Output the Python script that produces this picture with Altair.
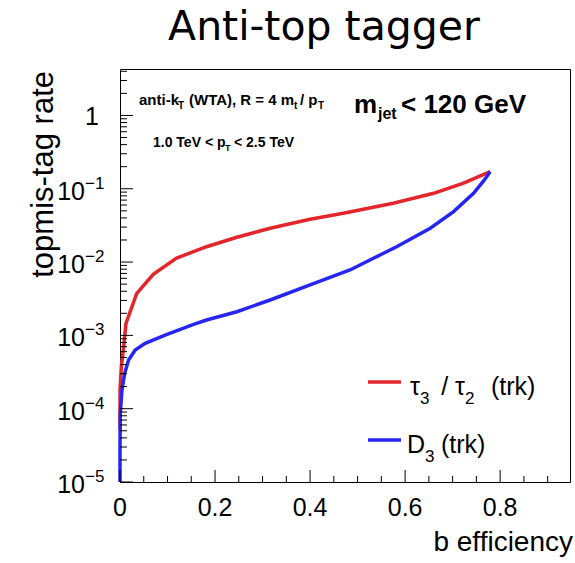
import altair as alt
import pandas as pd

# ---------------- data ----------------
red_x = [0.0, 0.0, 0.0028, 0.0077, 0.0126, 0.035, 0.070, 0.119, 0.182, 0.246,
         0.316, 0.40, 0.47, 0.575, 0.66, 0.723, 0.779]
red_y = [5e-5, 1.8e-4, 3.74e-4, 7.0e-4, 1.46e-3, 3.7e-3, 6.8e-3, 1.13e-2, 1.62e-2, 2.18e-2,
         2.89e-2, 3.84e-2, 4.63e-2, 6.34e-2, 8.67e-2, 1.19e-1, 1.71e-1]

blue_x = [0.0, 0.0, 0.0006, 0.0042, 0.0099, 0.018, 0.032, 0.053, 0.095, 0.152, 0.182,
          0.246, 0.316, 0.40, 0.484, 0.582, 0.653, 0.702, 0.744, 0.766, 0.779]
blue_y = [1e-5, 3e-5, 8.6e-5, 1.8e-4, 3.04e-4, 4.6e-4, 6.3e-4, 7.8e-4, 1.01e-3, 1.39e-3, 1.62e-3,
          2.1e-3, 3.04e-3, 4.88e-3, 7.8e-3, 1.62e-2, 2.89e-2, 4.88e-2, 8.67e-2, 1.3e-1, 1.71e-1]

series_names = ["tau32", "D3"]
series_colors = ["#e3262b", "#2626f2"]

x_label_values = [0, 0.2, 0.4, 0.6, 0.8]
x_label_texts = ["0", "0.2", "0.4", "0.6", "0.8"]
x_minor = [0.05, 0.1, 0.15, 0.25, 0.3, 0.35, 0.45, 0.5, 0.55, 0.65, 0.7, 0.75, 0.85, 0.9]

y_decades = [1e-5, 1e-4, 1e-3, 1e-2, 1e-1, 1.0]
y_exponents = ["−5", "−4", "−3", "−2", "−1", ""]
y_minor = [k * d for d in [1e-5, 1e-4, 1e-3, 1e-2, 1e-1] for k in range(2, 10)] + [2.0, 3.0, 4.0]

X_MAX = 0.947
Y_MIN, Y_MAX = 1e-5, 4.3
W, H = 450, 413
FONT = "Liberation Sans"

xscale = alt.Scale(domain=[0, X_MAX], nice=False, zero=False)
yscale = alt.Scale(type="log", domain=[Y_MIN, Y_MAX], nice=False)

# ---------------- curves ----------------
rows = []
for i, (x, y) in enumerate(zip(red_x, red_y)):
    rows.append({"x": x, "y": y, "s": series_names[0], "i": i})
for i, (x, y) in enumerate(zip(blue_x, blue_y)):
    rows.append({"x": x, "y": y, "s": series_names[1], "i": i})
curves_df = pd.DataFrame(rows)

curves = alt.Chart(curves_df).mark_line(strokeWidth=3.5).encode(
    x=alt.X("x:Q", scale=xscale, axis=None),
    y=alt.Y("y:Q", scale=yscale, axis=None),
    color=alt.Color("s:N", scale=alt.Scale(domain=series_names, range=series_colors), legend=None),
    order=alt.Order("i:Q"),
)

# ---------------- inward ticks ----------------
xmaj_df = pd.DataFrame({"v": x_label_values, "t": x_label_texts})
xmin_df = pd.DataFrame({"v": x_minor})
ymaj_df = pd.DataFrame({"v": y_decades, "e": y_exponents})
ymin_df = pd.DataFrame({"v": y_minor})

tick_style = dict(color="black", strokeWidth=1)
xmaj_ticks = alt.Chart(xmaj_df).mark_rule(**tick_style).encode(
    x=alt.X("v:Q", scale=xscale), y=alt.value(H), y2=alt.value(H - 12))
xmin_ticks = alt.Chart(xmin_df).mark_rule(**tick_style).encode(
    x=alt.X("v:Q", scale=xscale), y=alt.value(H), y2=alt.value(H - 6))
ymaj_ticks = alt.Chart(ymaj_df).mark_rule(**tick_style).encode(
    y=alt.Y("v:Q", scale=yscale), x=alt.value(0), x2=alt.value(13))
ymin_ticks = alt.Chart(ymin_df).mark_rule(**tick_style).encode(
    y=alt.Y("v:Q", scale=yscale), x=alt.value(0), x2=alt.value(7))

# ---------------- tick labels ----------------
x_labels = alt.Chart(xmaj_df).mark_text(
    font=FONT, fontSize=25, align="center", baseline="alphabetic", color="black"
).encode(x=alt.X("v:Q", scale=xscale), y=alt.value(H + 34), text="t:N")

ylab_one = alt.Chart(ymaj_df[ymaj_df["e"] == ""]).mark_text(
    font=FONT, fontSize=25, align="right", baseline="middle", dy=2, color="black"
).encode(y=alt.Y("v:Q", scale=yscale), x=alt.value(-21), text=alt.value("1"))

ylab_ten = alt.Chart(ymaj_df[ymaj_df["e"] != ""]).mark_text(
    font=FONT, fontSize=25, align="right", baseline="middle", dy=3, color="black"
).encode(y=alt.Y("v:Q", scale=yscale), x=alt.value(-35), text=alt.value("10"))

ylab_exp = alt.Chart(ymaj_df[ymaj_df["e"] != ""]).mark_text(
    font=FONT, fontSize=17, align="left", baseline="middle", dy=-5, color="black"
).encode(y=alt.Y("v:Q", scale=yscale), x=alt.value(-35), text="e:N")

# ---------------- annotation texts (pixel placement relative to plot) ----------------
def txt(s, x, y, size, bold=False, align="left", angle=0, font=FONT, baseline="alphabetic"):
    kw = dict(font=font, fontSize=size, align=align, baseline=baseline, color="black")
    if bold:
        kw["fontWeight"] = "bold"
    if angle:
        kw["angle"] = angle
    return alt.Chart(pd.DataFrame({"t": [s]})).mark_text(**kw).encode(
        x=alt.value(x), y=alt.value(y), text="t:N")

X0, Y0 = 120, 69  # plot origin in page pixels
texts = [
    # main title
    txt("Anti-top tagger", 324 - X0, 40 - Y0, 41, font="DejaVu Sans", align="center"),
    # axis titles
    txt("b efficiency", 573 - X0, 551 - Y0, 28, align="right"),
    txt("topmis-tag rate", 53 - X0, 71 - Y0, 31, align="right", angle=270),
    # annotation line 1
    txt("anti-k", 139 - X0, 105 - Y0, 15, bold=True),
    txt("T", 178 - X0, 109 - Y0, 10, bold=True),
    txt("(WTA), R = 4 m", 189 - X0, 105 - Y0, 15, bold=True),
    txt("t", 294 - X0, 109 - Y0, 10, bold=True),
    txt("/ p", 300 - X0, 105 - Y0, 15, bold=True),
    txt("T", 318 - X0, 109 - Y0, 10, bold=True),
    # annotation line 2
    txt("1.0 TeV < p", 153 - X0, 147 - Y0, 14, bold=True),
    txt("T", 225 - X0, 151 - Y0, 9, bold=True),
    txt("< 2.5 TeV", 234 - X0, 147 - Y0, 14, bold=True),
    # m_jet
    txt("m", 377 - X0, 113 - Y0, 26, bold=True, align="right"),
    txt("jet", 378 - X0, 119 - Y0, 16, bold=True),
    txt("< 120 GeV", 401 - X0, 113 - Y0, 26, bold=True),
    # legend texts
    txt("τ", 420 - X0, 395 - Y0, 25, align="right"),
    txt("3", 420 - X0, 404 - Y0, 17),
    txt("/ τ", 465 - X0, 395 - Y0, 25, align="right"),
    txt("2", 465 - X0, 404 - Y0, 17),
    txt("(trk)", 491 - X0, 395 - Y0, 25),
    txt("D", 425 - X0, 453 - Y0, 25, align="right"),
    txt("3", 425 - X0, 462 - Y0, 17),
    txt("(trk)", 441 - X0, 453 - Y0, 25),
]

legend_df = pd.DataFrame({"s": series_names, "ly": [382 - Y0, 440 - Y0]})
legend_lines = alt.Chart(legend_df).mark_rule(strokeWidth=3.5).encode(
    x=alt.value(368 - X0), x2=alt.value(401 - X0), y=alt.Y("ly:Q", scale=None),
    color=alt.Color("s:N", scale=alt.Scale(domain=series_names, range=series_colors), legend=None),
)

chart = alt.layer(
    curves, xmaj_ticks, xmin_ticks, ymaj_ticks, ymin_ticks,
    x_labels, ylab_one, ylab_ten, ylab_exp, legend_lines, *texts
).resolve_scale(y="shared").properties(
    width=W, height=H,
    autosize=alt.AutoSizeParams(type="none"),
    padding={"left": X0, "top": Y0, "right": 5, "bottom": 563 - Y0 - H},
    background="white",
).configure_view(stroke="black", strokeWidth=1)

chart.save("out.html", embed_options={"renderer": "svg", "actions": False})
